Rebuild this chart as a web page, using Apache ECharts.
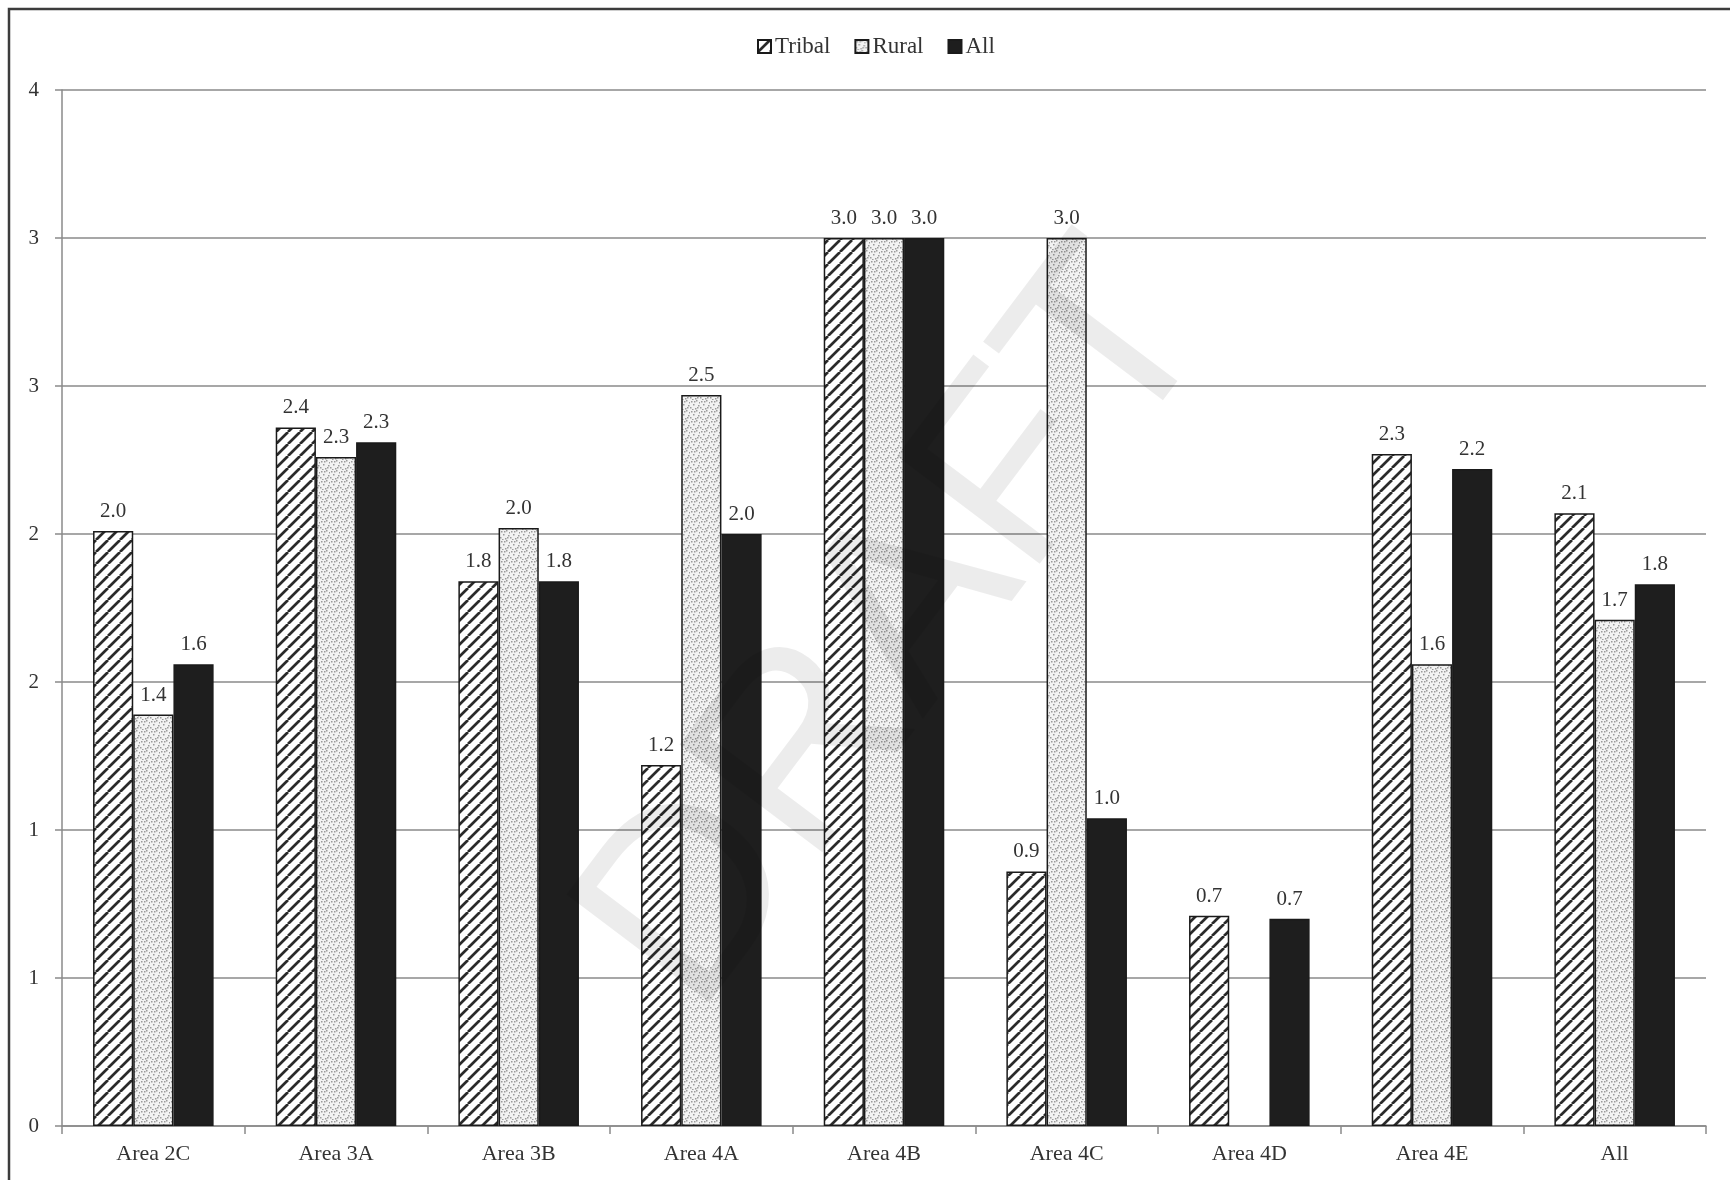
<!DOCTYPE html>
<html>
<head>
<meta charset="utf-8">
<script src="https://cdn.jsdelivr.net/npm/echarts@6/dist/echarts.min.js"></script>
<style>
  html, body { margin: 0; padding: 0; background: #ffffff; }
  #chart { width: 1730px; height: 1180px; }
</style>
</head>
<body>
<div id="chart"></div>
<script>
// Categories and series values
const categories = ['Area 2C', 'Area 3A', 'Area 3B', 'Area 4A', 'Area 4B', 'Area 4C', 'Area 4D', 'Area 4E', 'All'];
const tribalValues = [2.01, 2.36, 1.84, 1.22, 3.0, 0.86, 0.71, 2.27, 2.07];
const ruralValues  = [1.39, 2.26, 2.02, 2.47, 3.0, 3.0, null, 1.56, 1.71];
const allValues    = [1.56, 2.31, 1.84, 2.0, 3.0, 1.04, 0.70, 2.22, 1.83];
const seriesNames  = ['Tribal', 'Rural', 'All'];

const SERIF = '"Liberation Serif", "Times New Roman", serif';
const TEXT = '#333333';

// Diagonal hatch tile ("/" stripes)
function hatchTile() {
  const s = 12;
  const c = document.createElement('canvas');
  c.width = s; c.height = s;
  const g = c.getContext('2d');
  g.fillStyle = '#ffffff';
  g.fillRect(0, 0, s, s);
  g.strokeStyle = '#2a2a2a';
  g.lineWidth = 2.7;
  g.beginPath();
  for (let k = -1; k <= 1; k++) {
    g.moveTo(k * s, s);
    g.lineTo(k * s + s, 0);
  }
  g.stroke();
  return c;
}

// Fine stipple tile for the light dotted fill
function stippleTile() {
  const s = 10;
  const c = document.createElement('canvas');
  c.width = s; c.height = s;
  const g = c.getContext('2d');
  g.fillStyle = '#f2f2f2';
  g.fillRect(0, 0, s, s);
  g.fillStyle = '#9a9a9a';
  const dots = [[1, 1], [6, 0], [3, 4], [8, 5], [0, 7], [5, 8], [9, 2], [2, 9], [7, 7], [4, 1]];
  dots.forEach(([x, y]) => g.fillRect(x, y, 1.5, 1.5));
  return c;
}

const hatchFill = { image: hatchTile(), repeat: 'repeat' };
const stippleFill = { image: stippleTile(), repeat: 'repeat' };

function barSeries(name, data, fill) {
  return {
    name: name,
    type: 'bar',
    data: data,
    barGap: '0%',
    barCategoryGap: '34%',
    itemStyle: { color: fill, borderColor: '#1a1a1a', borderWidth: 1.5 },
    label: {
      show: true,
      position: 'top',
      distance: 9,
      color: TEXT,
      fontFamily: SERIF,
      fontSize: 21,
      formatter: p => (p.value == null ? '' : Number(p.value).toFixed(1))
    }
  };
}

const chart = echarts.init(document.getElementById('chart'), null, { renderer: 'canvas' });

chart.setOption({
  backgroundColor: '#ffffff',
  animation: false,
  legend: {
    data: seriesNames,
    top: 30,
    left: 752,
    itemWidth: 13,
    itemHeight: 13,
    itemGap: 24,
    icon: 'rect',
    textStyle: { color: TEXT, fontFamily: SERIF, fontSize: 23, padding: [0, 0, 0, -1] }
  },
  grid: { left: 62, right: 24, top: 90, bottom: 54, containLabel: false },
  xAxis: {
    type: 'category',
    data: categories,
    axisLine: { show: true, lineStyle: { color: '#8a8a8a', width: 1.5 } },
    axisTick: { show: true, length: 8, lineStyle: { color: '#8a8a8a', width: 1.5 } },
    axisLabel: { color: TEXT, fontFamily: SERIF, fontSize: 22, margin: 17 },
    splitLine: { show: false }
  },
  yAxis: {
    type: 'value',
    min: 0,
    max: 3.5,
    interval: 0.5,
    axisLine: { show: true, lineStyle: { color: '#8a8a8a', width: 1.5 } },
    axisTick: { show: true, length: 7, lineStyle: { color: '#8a8a8a', width: 1.5 } },
    axisLabel: {
      color: TEXT, fontFamily: SERIF, fontSize: 21, margin: 23,
      formatter: v => String(Math.round(v))
    },
    splitLine: { show: true, lineStyle: { color: '#8a8a8a', width: 1.5 } }
  },
  series: [
    barSeries('Tribal', tribalValues, hatchFill),
    barSeries('Rural', ruralValues, stippleFill),
    barSeries('All', allValues, '#1e1e1e')
  ],
  graphic: [
    {
      // chart frame
      type: 'rect',
      silent: true,
      z: 100,
      shape: { x: 9, y: 9, width: 1760, height: 1220 },
      style: { fill: 'none', stroke: '#3c3c3c', lineWidth: 2.5 }
    },
    {
      // diagonal watermark
      type: 'text',
      silent: true,
      z: 90,
      x: 900,
      y: 630,
      rotation: 53 * Math.PI / 180,
      style: {
        text: 'DRAFT',
        font: '260px "Liberation Sans", Arial, sans-serif',
        fill: 'rgba(0,0,0,0.075)',
        align: 'center',
        verticalAlign: 'middle'
      }
    }
  ]
});
</script>
</body>
</html>
